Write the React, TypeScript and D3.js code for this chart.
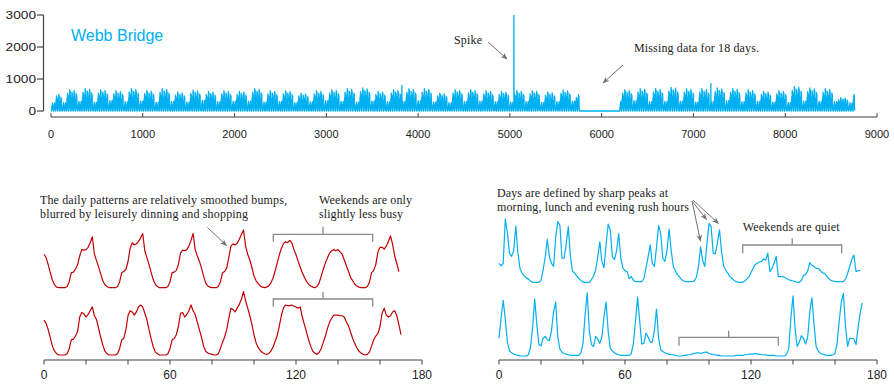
import React from "react";
import * as d3 from "d3";

// ---------- Top panel data (hourly counts for a year, Webb Bridge) ----------
const TOP_X_TICKS = [0, 1000, 2000, 3000, 4000, 5000, 6000, 7000, 8000, 9000];
const TOP_Y_TICKS = [0, 1000, 2000, 3000];
const TOTAL_HOURS = 8760;
// typical weekday / weekend hourly profile (% of peak)
const WEEKDAY_SHAPE = [0, 0, 0, 0, 3, 19, 40, 68, 40, 30, 25, 72, 96, 90, 38, 38, 60, 88, 41, 17, 15, 10, 6, 3];
const WEEKEND_SHAPE = [3, 1, 0, 0, 0, 2, 5, 9, 15, 22, 28, 30, 32, 33, 37, 35, 46, 17, 22, 30, 41, 9, 9, 9];
const WEEKDAY_FACTOR = [0.84, 1.0, 0.88, 0.96, 0.8];
// weekly weekday peak level (counts)
const WEEK_HIGH = [540, 665, 700, 665, 635, 700, 645, 700, 590, 655, 615, 635, 615, 700, 635, 635, 560, 635, 665, 700,
  720, 615, 665, 700, 700, 560, 665, 665, 635, 615, 635, 635, 590, 655, 510, 0, 600, 665, 700, 700,
  740, 700, 700, 720, 700, 665, 615, 635, 770, 720, 700, 420, 615];
// weekly weekend peak level (counts)
const WEEK_LOW = [260, 300, 280, 320, 290, 310, 270, 300, 280, 330, 290, 300, 310, 280, 300, 260, 290, 320, 300, 280,
  310, 290, 300, 320, 280, 260, 300, 310, 290, 280, 300, 270, 290, 310, 280, 0, 300, 320, 290, 300,
  310, 280, 300, 320, 290, 300, 280, 270, 310, 300, 290, 250, 300];
const HOLIDAY_DAYS = [0, 1];
const HOLIDAY_LEVEL = 250;
const MISSING_DAYS = [240, 258];
const SPIKES = [
  { hour: 3823, value: 800 },
  { hour: 5044, value: 2990 },
  { hour: 7190, value: 860 },
];

// ---------- Bottom panels (one week, hourly, % of local peak) ----------
const BOTTOM_TICKS = [0, 20, 40, 60, 80, 100, 120, 140, 160, 180];
const BOTTOM_LABELS = [0, 60, 120, 180];

const LEFT_TOP = [
  58, 52, 40, 26, 13, 5, 1, 0, 0, 0, 0, 2, 10,
  26, 27, 32, 40, 55, 66, 65, 66, 70, 78, 88,
  58, 47, 36, 24, 12, 5, 2, 0, 0, 0, 0, 2, 10,
  26, 28, 32, 45, 68, 78, 74, 76, 80, 86, 94,
  64, 52, 40, 27, 14, 6, 2, 0, 0, 0, 0, 2, 10,
  26, 27, 30, 40, 60, 65, 64, 66, 72, 82, 94,
  66, 55, 46, 34, 20, 8, 3, 1, 0, 0, 0, 2, 10,
  26, 28, 34, 52, 72, 76, 74, 77, 84, 92, 100,
  72, 58, 48, 35, 20, 12, 7, 3, 1, 0, 1, 3, 8,
  16, 28, 42, 56, 68, 76, 80, 78, 82, 78, 66, 57, 46, 36, 26, 18, 11, 6, 3, 1, 0,
  2, 8, 20, 32, 43, 52, 60, 64, 66, 64, 66, 62, 58, 48, 38, 28, 18, 12, 6, 3, 1, 0, 0, 0,
  2, 10, 26, 30, 40, 62, 70, 70, 67, 72, 80, 90, 75, 55, 42, 28,
];
const LEFT_BOTTOM = [
  55, 50, 40, 27, 14, 6, 2, 0, 0, 0, 0, 2, 10,
  24, 25, 30, 37, 60, 67, 65, 60, 64, 70, 76,
  62, 56, 42, 28, 16, 6, 2, 0, 0, 0, 0, 2, 10,
  24, 26, 40, 62, 70, 68, 63, 68, 76, 79, 76,
  66, 56, 40, 26, 13, 5, 2, 0, 0, 0, 0, 2, 10,
  24, 26, 32, 45, 66, 67, 60, 64, 70, 79, 70,
  64, 52, 40, 28, 14, 6, 3, 2, 1, 0, 0, 2, 10,
  20, 28, 40, 58, 74, 72, 68, 74, 80, 88, 100,
  86, 74, 62, 48, 32, 19, 12, 7, 4, 2, 1, 2, 6,
  12, 21, 30, 45, 62, 74, 79, 78, 78, 79, 77, 76, 74, 76, 60, 48, 36, 24, 14, 6, 3, 1,
  4, 10, 20, 30, 42, 52, 58, 63, 63, 63, 62, 62, 60, 52, 46, 36, 26, 18, 11, 6, 3, 1, 0, 1,
  5, 14, 24, 30, 34, 45, 66, 74, 63, 60, 62, 68, 70, 62, 48, 32,
];
const RIGHT_TOP = [
  30, 26, 30, 100, 78, 46, 41, 50, 89, 46, 22, 14, 10, 7, 5, 2, 0, 0, 0, 0,
  3, 19, 40, 68, 40, 30, 25, 72, 96, 90, 38, 38, 60, 88, 41, 17, 15, 10, 6, 3,
  0, 0, 0, 0, 4, 10, 19, 40, 64, 33, 23, 60, 92, 82, 40, 36, 50, 77, 38, 23,
  18, 17, 6, 9, 3, 1, 1, 1, 1, 6, 23, 40, 59, 30, 25, 55, 90, 77, 38, 33,
  50, 84, 50, 25, 18, 12, 8, 4, 2, 1, 1, 1, 1, 2, 8, 25, 56, 34, 25, 60,
  93, 88, 46, 45, 62, 83, 48, 26, 19, 14, 9, 6, 3, 1, 0, 0, 0, 2, 5, 9,
  15, 22, 28, 30, 32, 33, 37, 35, 46, 17, 22, 30, 41, 9, 9, 9, 8, 6, 4, 3,
  2, 1, 0, 0, 3, 11, 12, 18, 31, 27, 25, 22, 22, 19, 15, 14, 10, 6, 3, 2,
  1, 1, 1, 1, 1, 5, 14, 25, 36, 43, 17, 18, 19,
];
const RIGHT_BOTTOM = [
  28, 60, 88, 58, 22, 8, 5, 3, 2, 1, 0, 0, 0, 0, 2, 14, 45, 90, 50, 18,
  16, 28, 31, 26, 24, 40, 70, 85, 30, 11, 6, 4, 3, 2, 1, 1, 1, 1, 1, 5,
  20, 65, 100, 40, 18, 15, 31, 27, 20, 30, 62, 85, 39, 12, 8, 5, 3, 2, 1, 1,
  1, 1, 1, 4, 20, 55, 93, 55, 19, 20, 36, 30, 22, 22, 40, 74, 28, 10, 7, 5,
  4, 3, 2, 2, 1, 0, 0, 0, 1, 1, 2, 2, 3, 4, 5, 5, 4, 5, 6, 6,
  4, 3, 2, 2, 1, 1, 0, 0, 0, 0, 0, 0, 0, 1, 1, 1, 1, 2, 2, 3,
  3, 3, 4, 3, 3, 2, 2, 2, 1, 1, 1, 1, 0, 0, 0, 0, 0, 3, 12, 60,
  95, 42, 15, 22, 32, 28, 19, 30, 70, 92, 50, 15, 8, 4, 3, 2, 1, 1, 1, 2,
  4, 20, 55, 85, 99, 47, 15, 28, 28, 27, 18, 45, 68, 84,
];

const BLUE = "#00B0F0";
const RED = "#C00000";
const AXIS = "#404040";
const GRAY = "#8a8a8a";
const SERIF = "'Liberation Serif', 'Times New Roman', serif";
const SANS = "'Liberation Sans', Arial, sans-serif";

function buildYear(): number[] {
  const out: number[] = [];
  for (let h = 0; h < TOTAL_HOURS; h++) {
    const d = Math.floor(h / 24);
    const w = Math.floor(d / 7);
    const dow = d % 7;
    const hh = h % 24;
    let v: number;
    if (d >= MISSING_DAYS[0] && d < MISSING_DAYS[1]) v = 0;
    else if (HOLIDAY_DAYS.includes(d)) v = (WEEKEND_SHAPE[hh] / 46) * HOLIDAY_LEVEL;
    else if (dow >= 5) v = (WEEKEND_SHAPE[hh] / 46) * WEEK_LOW[w];
    else v = (WEEKDAY_SHAPE[hh] / 96) * WEEK_HIGH[w] * WEEKDAY_FACTOR[dow];
    out.push(v);
  }
  SPIKES.forEach((s) => (out[s.hour] = s.value));
  return out;
}

const Bracket = ({ x1, x2, y, down, up }: { x1: number; x2: number; y: number; down: number; up: number }) => (
  <path
    d={`M${x1},${y + down}V${y}H${x2}V${y + down}M${(x1 + x2) / 2},${y}V${y - up}`}
    fill="none"
    stroke={GRAY}
    strokeWidth={1.3}
  />
);

export default function App() {
  const year = buildYear();
  const xTop = d3.scaleLinear().domain([0, 9000]).range([51, 877]);
  const yTop = d3.scaleLinear().domain([0, 3000]).range([111, 15]);
  const topLine = d3
    .line<number>()
    .x((_, i) => xTop(i))
    .y((d) => yTop(d))(year) as string;

  const xLeft = d3.scaleLinear().domain([0, 180]).range([44, 422]);
  const xRight = d3.scaleLinear().domain([0, 180]).range([499, 877]);
  const band = (r: [number, number]) => d3.scaleLinear().domain([0, 100]).range(r);
  const curves = [
    { data: LEFT_TOP, x: xLeft, y: band([287.7, 230]), color: RED },
    { data: LEFT_BOTTOM, x: xLeft, y: band([355, 291.7]), color: RED },
    { data: RIGHT_TOP, x: xRight, y: band([282.3, 219]), color: BLUE },
    { data: RIGHT_BOTTOM, x: xRight, y: band([356, 292.7]), color: BLUE },
  ];

  const bottomAxis = (x: d3.ScaleLinear<number, number>, key: string) => (
    <g key={key}>
      <line x1={x(0)} x2={x(180)} y1={360} y2={360} stroke={AXIS} strokeWidth={1.2} />
      {BOTTOM_TICKS.map((t) => (
        <line key={t} x1={x(t)} x2={x(t)} y1={360} y2={364.5} stroke={AXIS} strokeWidth={1} />
      ))}
      {BOTTOM_LABELS.map((t) => (
        <text key={t} x={x(t)} y={378.5} textAnchor="middle" fontFamily={SANS} fontSize={12} fill="#222">
          {t}
        </text>
      ))}
    </g>
  );

  return (
    <svg
      width={894}
      height={384}
      style={{ position: "absolute", left: 0, top: 0, background: "#fff" }}
    >
      <defs>
        <marker id="arr" viewBox="0 0 10 10" refX={9} refY={5} markerWidth={7} markerHeight={7} orient="auto">
          <path d="M0,1 L10,5 L0,9 L3,5 z" fill="#707070" />
        </marker>
      </defs>

      {/* ---------- top panel ---------- */}
      <line x1={43.5} x2={43.5} y1={yTop(3000)} y2={yTop(0)} stroke={AXIS} strokeWidth={1.2} />
      {TOP_Y_TICKS.map((t) => (
        <g key={t}>
          <line x1={37} x2={43.5} y1={yTop(t)} y2={yTop(t)} stroke={AXIS} strokeWidth={1.2} />
          <text
            x={36}
            y={yTop(t) + 4}
            textAnchor="end"
            fontFamily={SANS}
            fontSize={11}
            fill="#222"
            textLength={String(t).length * 7.6}
            lengthAdjust="spacingAndGlyphs"
          >
            {t}
          </text>
        </g>
      ))}
      <line x1={xTop(0)} x2={xTop(9000)} y1={117} y2={117} stroke={AXIS} strokeWidth={1.2} />
      {TOP_X_TICKS.map((t) => (
        <g key={t}>
          <line x1={xTop(t)} x2={xTop(t)} y1={113} y2={117} stroke={AXIS} strokeWidth={1} />
          <text x={xTop(t)} y={137.5} textAnchor="middle" fontFamily={SANS} fontSize={11} fill="#222">
            {t}
          </text>
        </g>
      ))}
      <path d={topLine} fill="none" stroke={BLUE} strokeWidth={1.3} strokeLinejoin="round" />
      <text x={71} y={41} fontFamily={SANS} fontSize={16} fill={BLUE}>
        Webb Bridge
      </text>
      <text x={454} y={44} fontFamily={SERIF} fontSize={12} fill="#222" textLength={28} lengthAdjust="spacing">
        Spike
      </text>
      <line x1={488} y1={42} x2={507} y2={59} stroke="#707070" strokeWidth={1} markerEnd="url(#arr)" />
      <text x={634} y={52} fontFamily={SERIF} fontSize={12} fill="#222" textLength={125} lengthAdjust="spacing">
        Missing data for 18 days.
      </text>
      <line x1={623} y1={65} x2={603} y2={83} stroke="#707070" strokeWidth={1} markerEnd="url(#arr)" />

      {/* ---------- bottom panels ---------- */}
      {curves.map((c, k) => (
        <path
          key={k}
          d={
            d3
              .line<number>()
              .x((_, i) => c.x(i))
              .y((d) => c.y(d))(c.data) as string
          }
          fill="none"
          stroke={c.color}
          strokeWidth={1.2}
          strokeLinejoin="round"
        />
      ))}
      {bottomAxis(xLeft, "l")}
      {bottomAxis(xRight, "r")}

      {/* left annotations */}
      <text x={40} y={204} fontFamily={SERIF} fontSize={12} fill="#222" textLength={247} lengthAdjust="spacing">
        The daily patterns are relatively smoothed bumps,
      </text>
      <text x={40} y={218} fontFamily={SERIF} fontSize={12} fill="#222" textLength={208} lengthAdjust="spacing">
        blurred by leisurely dinning and shopping
      </text>
      <line x1={207.5} y1={227.5} x2={226.5} y2={245.5} stroke="#707070" strokeWidth={1} markerEnd="url(#arr)" />
      <text x={319} y={204} fontFamily={SERIF} fontSize={12} fill="#222" textLength={93} lengthAdjust="spacing">
        Weekends are only
      </text>
      <text x={319} y={218} fontFamily={SERIF} fontSize={12} fill="#222" textLength={84} lengthAdjust="spacing">
        slightly less busy
      </text>
      <Bracket x1={273.3} x2={372.7} y={234.3} down={7.4} up={7.6} />
      <Bracket x1={273.3} x2={372.7} y={299} down={7.7} up={7.3} />

      {/* right annotations */}
      <text x={497} y={197} fontFamily={SERIF} fontSize={12} fill="#222" textLength={171} lengthAdjust="spacing">
        Days are defined by sharp peaks at
      </text>
      <text x={497} y={211} fontFamily={SERIF} fontSize={12} fill="#222" textLength={192} lengthAdjust="spacing">
        morning, lunch and evening rush hours
      </text>
      <line x1={692} y1={201} x2={700.5} y2={241} stroke="#707070" strokeWidth={1} markerEnd="url(#arr)" />
      <line x1={692} y1={201} x2={706.5} y2={219.5} stroke="#707070" strokeWidth={1} markerEnd="url(#arr)" />
      <line x1={693} y1={200} x2={718.5} y2={223.5} stroke="#707070" strokeWidth={1} markerEnd="url(#arr)" />
      <text x={742.7} y={231} fontFamily={SERIF} fontSize={12} fill="#222" textLength={97} lengthAdjust="spacing">
        Weekends are quiet
      </text>
      <Bracket x1={742.7} x2={841.7} y={245} down={8.3} up={6.7} />
      <Bracket x1={679} x2={778.3} y={337.3} down={8.4} up={6.6} />
    </svg>
  );
}
